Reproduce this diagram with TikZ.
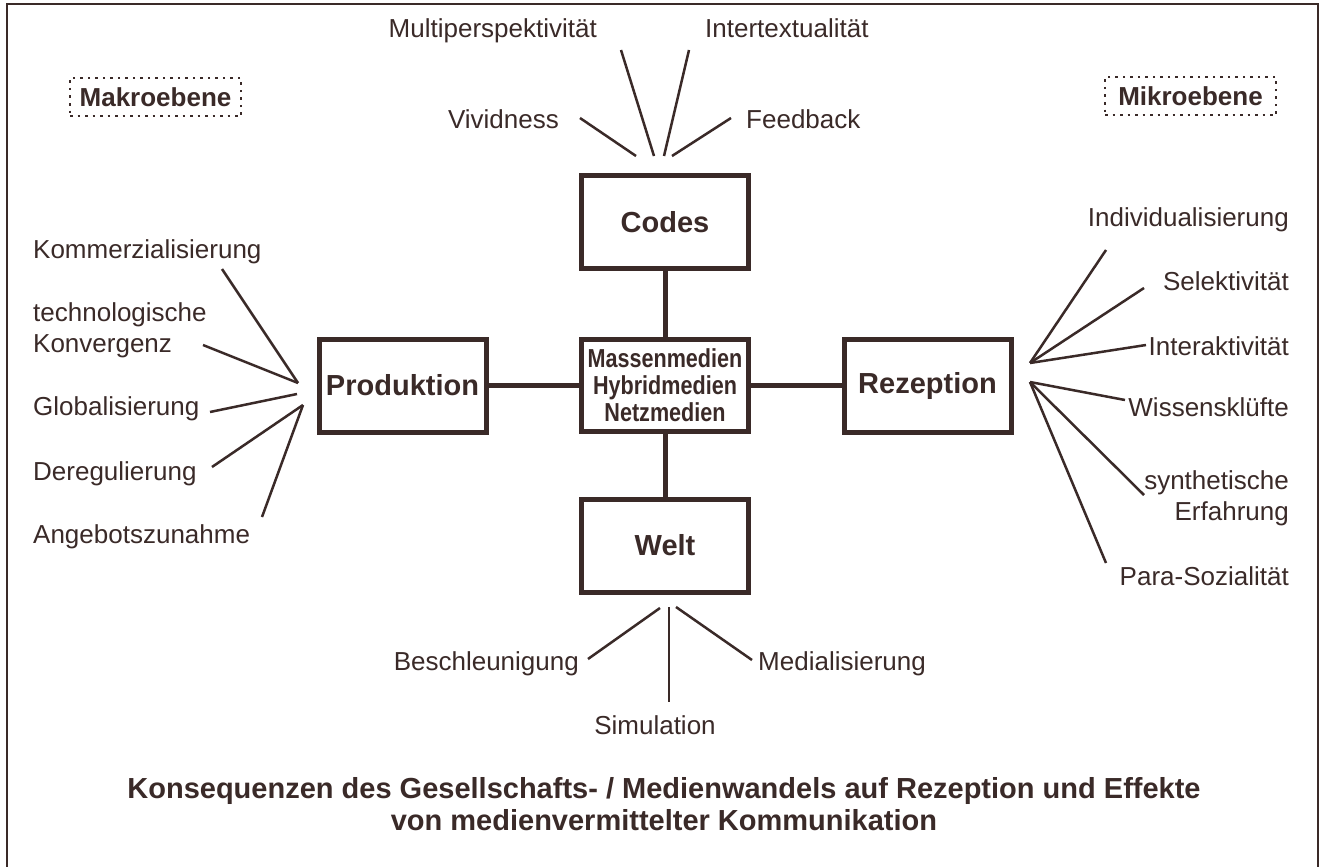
\documentclass[tikz,border=0pt]{standalone}
\usepackage{fontspec}
\setmainfont{Liberation Sans}
\newfontfamily\condbold[FakeStretch=0.83]{Liberation Sans Bold}
\definecolor{ink}{RGB}{58,42,40}
\begin{document}
\begin{tikzpicture}[x=1pt,y=-1pt,
  every node/.style={text=ink, inner sep=0pt},
  lbl/.style={font=\fontsize{26}{31}\selectfont},
  boxnode/.style={draw=ink, line width=5pt, minimum width=167pt, minimum height=93pt, font=\fontsize{29}{32}\selectfont\bfseries},
  levelbox/.style={draw=ink, line width=2pt, dash pattern=on 2.5pt off 5pt, minimum width=171pt, minimum height=38pt, font=\fontsize{26}{30}\selectfont\bfseries},
  fan/.style={draw=ink, line width=2.5pt},
  link/.style={draw=ink, line width=5pt},
]
\useasboundingbox (0,0) rectangle (1322,867);
\fill[white] (0,0) rectangle (1322,867);
% frame
\draw[ink, line width=2pt] (7,867) -- (7,4) -- (1318,4) -- (1318,867);

% level boxes
\node[levelbox] (makro) at (155.5,97) {Makroebene};
\node[levelbox] (mikro) at (1190.5,96) {Mikroebene};

% main boxes
\node[boxnode] (codes) at (665,222) {Codes};
\node[boxnode, minimum height=92pt, font=\fontsize{26}{27}\condbold, align=center] (medien) at (665,385.5) {Massenmedien\\Hybridmedien\\Netzmedien};
\node[boxnode] (prod) at (402.5,385.5) {Produktion};
\node[boxnode] (rez) at (927.5,385.5) {Rezeption};
\node[boxnode] (welt) at (665,545.5) {Welt};

\draw[link] (codes) -- (medien);
\draw[link] (prod) -- (medien);
\draw[link] (medien) -- (rez);
\draw[link] (medien) -- (welt);

% top labels (Codes)
\node[lbl, anchor=base east] (multi) at (597,38) {Multiperspektivität};
\node[lbl, anchor=base west] (inter) at (705,38) {Intertextualität};
\node[lbl, anchor=base east] (vivid) at (559,128) {Vividness};
\node[lbl, anchor=base west] (feed) at (746,128) {Feedback};
\coordinate (multiA) at (621,50);  \coordinate (multiB) at (654,156);
\coordinate (interA) at (689,50);  \coordinate (interB) at (664,156);
\coordinate (vividA) at (580,118); \coordinate (vividB) at (636,156);
\coordinate (feedA) at (731,118);  \coordinate (feedB) at (672,156);
\draw[fan] (multiA) -- (multiB);
\draw[fan] (interA) -- (interB);
\draw[fan] (vividA) -- (vividB);
\draw[fan] (feedA) -- (feedB);

% left labels (Produktion)
\node[lbl, anchor=base west] (komm) at (33,258) {Kommerzialisierung};
\node[lbl, anchor=base west, align=left] (tech) at (33,352) {technologische\\Konvergenz};
\node[lbl, anchor=base west] (glob) at (33,415) {Globalisierung};
\node[lbl, anchor=base west] (dereg) at (33,480) {Deregulierung};
\node[lbl, anchor=base west] (angeb) at (33,543) {Angebotszunahme};
\coordinate (kommA) at (222,269);  \coordinate (kommB) at (298,383);
\coordinate (techA) at (203,345);  \coordinate (techB) at (298,383);
\coordinate (globA) at (210,412);  \coordinate (globB) at (297,394);
\coordinate (deregA) at (212,467); \coordinate (deregB) at (303,405);
\coordinate (angebA) at (262,517); \coordinate (angebB) at (303,405);
\draw[fan] (kommA) -- (kommB);
\draw[fan] (techA) -- (techB);
\draw[fan] (globA) -- (globB);
\draw[fan] (deregA) -- (deregB);
\draw[fan] (angebA) -- (angebB);

% right labels (Rezeption)
\node[lbl, anchor=base east] (indiv) at (1289,226) {Individualisierung};
\node[lbl, anchor=base east] (selek) at (1289,290) {Selektivität};
\node[lbl, anchor=base east] (inakt) at (1289,355) {Interaktivität};
\node[lbl, anchor=base east] (wiss) at (1289,416) {Wissensklüfte};
\node[lbl, anchor=base east, align=right] (synth) at (1289,520) {synthetische\\Erfahrung};
\node[lbl, anchor=base east] (para) at (1289,585) {Para-Sozialität};
\coordinate (rzTop) at (1030,363);
\coordinate (rzBot) at (1030,382);
\coordinate (indivA) at (1106,250);
\coordinate (selekA) at (1144,288);
\coordinate (inaktA) at (1146,345);
\coordinate (wissA) at (1125,400);
\coordinate (synthA) at (1144,495);
\coordinate (paraA) at (1106,563);
\draw[fan] (indivA) -- (rzTop);
\draw[fan] (selekA) -- (rzTop);
\draw[fan] (inaktA) -- (rzTop);
\draw[fan] (wissA) -- (rzBot);
\draw[fan] (synthA) -- (rzBot);
\draw[fan] (paraA) -- (rzBot);

% bottom labels (Welt)
\node[lbl, anchor=base east] (besch) at (579,670) {Beschleunigung};
\node[lbl, anchor=base west] (medial) at (758,670) {Medialisierung};
\node[lbl, anchor=base] (simu) at (655,734) {Simulation};
\coordinate (beschA) at (588,659); \coordinate (beschB) at (660,608);
\coordinate (simuA) at (669,607);  \coordinate (simuB) at (669,702);
\coordinate (medialA) at (676,607); \coordinate (medialB) at (752,660);
\draw[fan] (beschA) -- (beschB);
\draw[fan] (simuA) -- (simuB);
\draw[fan] (medialA) -- (medialB);

% title
\node[font=\fontsize{29}{32}\selectfont\bfseries, align=center] (title) at (664,804)
  {Konsequenzen des Gesellschafts- / Medienwandels auf Rezeption und Effekte\\von medienvermittelter Kommunikation};
\end{tikzpicture}
\end{document}
